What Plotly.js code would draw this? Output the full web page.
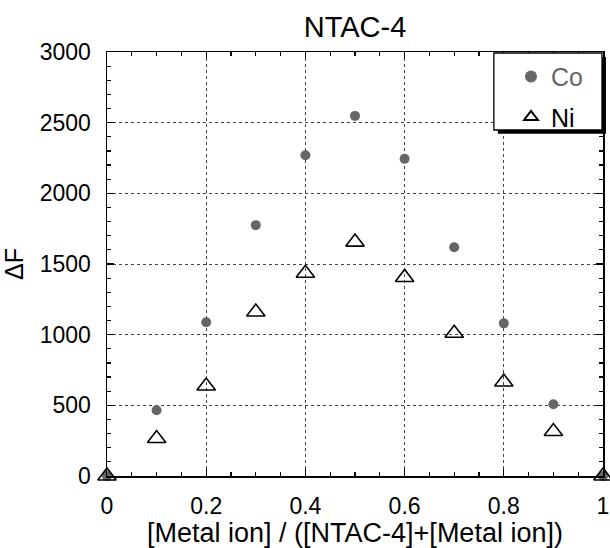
<!DOCTYPE html>
<html>
<head>
<meta charset="utf-8">
<script src="https://cdn.plot.ly/plotly-3.0.1.min.js"></script>
<style>html,body{margin:0;padding:0;background:#fff;}#chart{width:610px;height:548px;}</style>
</head>
<body>
<div id="chart"></div>
<script>
const ratio = [0, 0.1, 0.2, 0.3, 0.4, 0.5, 0.6, 0.7, 0.8, 0.9, 1];
const coValues = [0, 465, 1088, 1775, 2270, 2548, 2245, 1618, 1080, 508, 0];
const niValues = [0, 265, 637, 1160, 1435, 1655, 1405, 1010, 665, 315, 0];
const seriesNames = ['Co', 'Ni'];
const xTickVals = [0, 0.2, 0.4, 0.6, 0.8, 1];
const xTickText = ['0', '0.2', '0.4', '0.6', '0.8', '1'];
const titleText = 'NTAC-4';
const xTitle = '[Metal ion] / ([NTAC-4]+[Metal ion])';
const yTitle = 'ΔF';

const font = 'Liberation Sans, Arial, Helvetica, sans-serif';

const traces = [
  {
    x: ratio, y: coValues, type: 'scatter', mode: 'markers',
    name: '<span style="color:#666666">' + seriesNames[0] + '</span>',
    legendgroup: 'co',
    marker: {symbol: 'circle', size: 10, color: '#666666'},
    cliponaxis: false
  },
  {
    x: ratio, y: niValues, type: 'scatter', mode: 'markers',
    name: seriesNames[1],
    legendgroup: 'ni',
    marker: {symbol: 'triangle-up-open', size: 16, color: '#000', line: {width: 1.6, color: '#000'}},
    cliponaxis: false
  }
];

const axisCommon = {
  showline: true, linecolor: '#000', linewidth: 1.5, mirror: 'ticks',
  ticks: 'inside', ticklen: 7, tickwidth: 1.2, tickcolor: '#000',
  showgrid: true, gridcolor: '#444', griddash: 'dot', gridwidth: 1,
  zeroline: false,
  tickfont: {family: font, size: 23, color: '#000'}
};

const layout = {
  width: 610, height: 548,
  margin: {l: 107, r: 7, t: 52, b: 72},
  paper_bgcolor: '#fff', plot_bgcolor: '#fff',
  title: {text: titleText, font: {family: font, size: 29, color: '#000'}, x: 0.5, xref: 'paper', xanchor: 'center', y: 0.951, yanchor: 'middle'},
  xaxis: Object.assign({}, axisCommon, {
    range: [0, 1], tickvals: xTickVals, ticktext: xTickText,
    ticklabelstandoff: 9,
    minor: {dtick: 0.05, ticks: 'inside', ticklen: 4, tickcolor: '#000', showgrid: false},
    title: {text: xTitle, font: {family: font, size: 27, color: '#000'}, standoff: 6}
  }),
  yaxis: Object.assign({}, axisCommon, {
    range: [0, 3000], dtick: 500, tick0: 0,
    ticklabelstandoff: 10,
    minor: {dtick: 100, ticks: 'inside', ticklen: 4, tickcolor: '#000', showgrid: false},
    title: {text: yTitle, font: {family: font, size: 25, color: '#000'}, standoff: 10}
  }),
  showlegend: true,
  legend: {
    x: 0.8145, xanchor: 'left', y: 0.996, yanchor: 'top',
    bgcolor: 'rgba(0,0,0,0)', borderwidth: 0,
    font: {family: font, size: 25, color: '#000'},
    itemsizing: 'constant', tracegroupgap: 5
  },
  shapes: [
    {type: 'rect', xref: 'paper', yref: 'paper', x0: 0.788, x1: 1.006, y0: 0.807, y1: 0.988, fillcolor: '#000', line: {width: 0}, layer: 'above'},
    {type: 'rect', xref: 'paper', yref: 'paper', x0: 0.780, x1: 0.998, y0: 0.816, y1: 0.9976, fillcolor: '#fff', line: {width: 1.3, color: '#000'}, layer: 'above'}
  ]
};

Plotly.newPlot('chart', traces, layout, {displayModeBar: false, staticPlot: true});
</script>
</body>
</html>
